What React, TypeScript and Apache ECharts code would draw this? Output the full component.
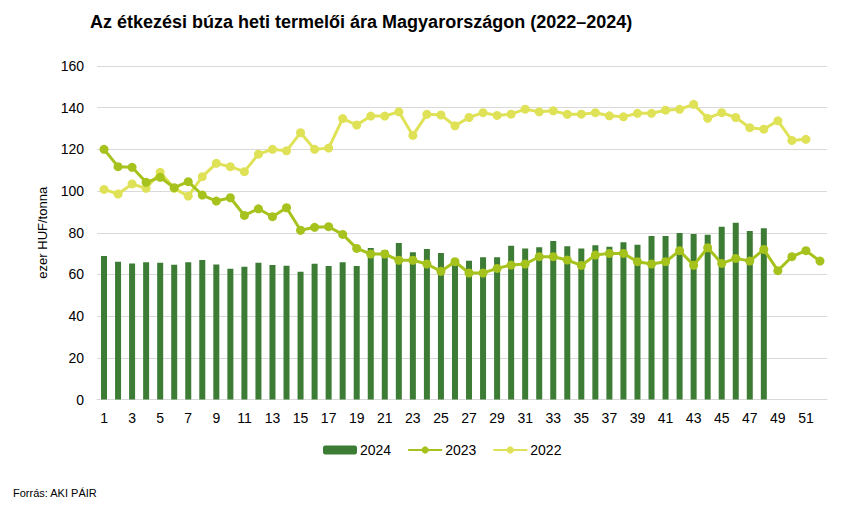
import React, { useEffect, useRef } from "react";
import * as echarts from "echarts";

const weeks: string[] = Array.from({ length: 52 }, (_, i) => String(i + 1));

const y2024: number[] = [
  68.8, 66.1, 65.3, 65.8, 65.6, 64.7, 65.9, 66.9, 64.8, 62.7,
  63.7, 65.6, 64.5, 64.2, 61.3, 65.1, 64.0, 65.9, 64.0, 72.7,
  71.7, 75.1, 70.7, 72.2, 70.3, 66.0, 66.6, 68.3, 68.3, 73.8,
  72.5, 73.1, 76.0, 73.5, 72.5, 74.0, 73.3, 75.5, 74.3, 78.4,
  78.4, 79.9, 79.4, 79.1, 82.9, 84.8, 80.8, 82.1,
];

const y2023: number[] = [
  120.0, 111.7, 111.4, 104.2, 106.6, 101.6, 104.5, 98.1, 95.2, 96.8,
  88.3, 91.5, 87.7, 92.0, 81.2, 82.6, 82.9, 79.2, 72.5, 69.8,
  69.8, 66.8, 66.8, 65.0, 61.5, 66.1, 60.7, 60.7, 62.9, 64.5,
  65.0, 68.5, 68.5, 66.9, 64.3, 69.3, 70.1, 70.1, 66.1, 65.0,
  66.1, 71.4, 64.4, 72.8, 65.3, 67.7, 66.4, 72.0, 61.8, 68.5,
  71.4, 66.4,
];

const y2022: number[] = [
  100.8, 98.6, 103.4, 101.3, 109.0, 101.3, 97.6, 106.9, 113.3, 111.7,
  109.3, 117.7, 120.0, 119.3, 128.0, 120.0, 120.6, 134.8, 131.7, 136.0,
  136.0, 138.0, 126.7, 136.8, 136.5, 131.3, 135.3, 137.6, 136.3, 136.9,
  139.3, 138.0, 138.5, 136.8, 136.9, 137.6, 136.1, 135.6, 137.3, 137.3,
  138.8, 139.2, 141.6, 134.9, 137.6, 135.3, 130.4, 129.7, 133.7, 124.3,
  124.8,
];

const yTicks = { min: 0, max: 160, interval: 20 };

const C2024 = "#3c7c34";
const C2023 = "#a6c21c";
const C2022 = "#dfe257";

export default function App() {
  const ref = useRef<HTMLDivElement>(null);
  useEffect(() => {
    if (!ref.current) return;
    const chart = echarts.init(ref.current, undefined, { renderer: "svg" });
    const font = "Arial, 'Liberation Sans', sans-serif";
    chart.setOption({
      animation: false,
      textStyle: { fontFamily: font },
      title: {
        text: "Az étkezési búza heti termelői ára Magyarországon (2022–2024)",
        left: 85,
        top: 8,
        textStyle: { fontSize: 18, fontWeight: "bold", color: "#000", fontFamily: font },
      },
      graphic: [
        {
          type: "text",
          left: 13,
          top: 487,
          style: { text: "Forrás: AKI PÁIR", fontSize: 11, fill: "#000", fontFamily: font },
        },
      ],
      legend: {
        bottom: 49,
        left: 318,
        itemWidth: 34,
        itemHeight: 9,
        itemGap: 16,
        textStyle: { fontSize: 14, color: "#000", fontFamily: font, padding: [0, 0, 0, -2] },
        data: ["2024", "2023", "2022"],
      },
      grid: { left: 97, right: 21, top: 66, bottom: 111.5, containLabel: false },
      xAxis: {
        type: "category",
        data: weeks,
        boundaryGap: true,
        axisLine: { show: true, lineStyle: { color: "#d9d9d9", width: 1 } },
        axisTick: { show: false },
        axisLabel: { interval: 1, color: "#000", fontSize: 14, margin: 11, fontFamily: font },
      },
      yAxis: {
        type: "value",
        min: yTicks.min,
        max: yTicks.max,
        interval: yTicks.interval,
        name: "ezer HUF/tonna",
        nameLocation: "middle",
        nameGap: 48,
        nameRotate: 90,
        nameTextStyle: { fontSize: 13, color: "#000", fontFamily: font },
        axisLine: { show: false },
        axisTick: { show: false },
        axisLabel: { color: "#000", fontSize: 14, margin: 13, fontFamily: font },
        splitLine: { lineStyle: { color: "#d9d9d9", width: 1 } },
      },
      series: [
        {
          name: "2024",
          type: "bar",
          data: y2024,
          barWidth: 6,
          itemStyle: { color: C2024 },
          z: 1,
        },
        {
          name: "2023",
          type: "line",
          data: y2023,
          symbol: "circle",
          symbolSize: 9,
          lineStyle: { color: C2023, width: 3 },
          itemStyle: { color: C2023 },
          z: 3,
        },
        {
          name: "2022",
          type: "line",
          data: y2022,
          symbol: "circle",
          symbolSize: 9,
          lineStyle: { color: C2022, width: 3 },
          itemStyle: { color: C2022 },
          z: 2,
        },
      ],
    });
    return () => chart.dispose();
  }, []);
  return <div ref={ref} style={{ width: 848, height: 511, position: "absolute", left: 0, top: 0 }} />;
}
